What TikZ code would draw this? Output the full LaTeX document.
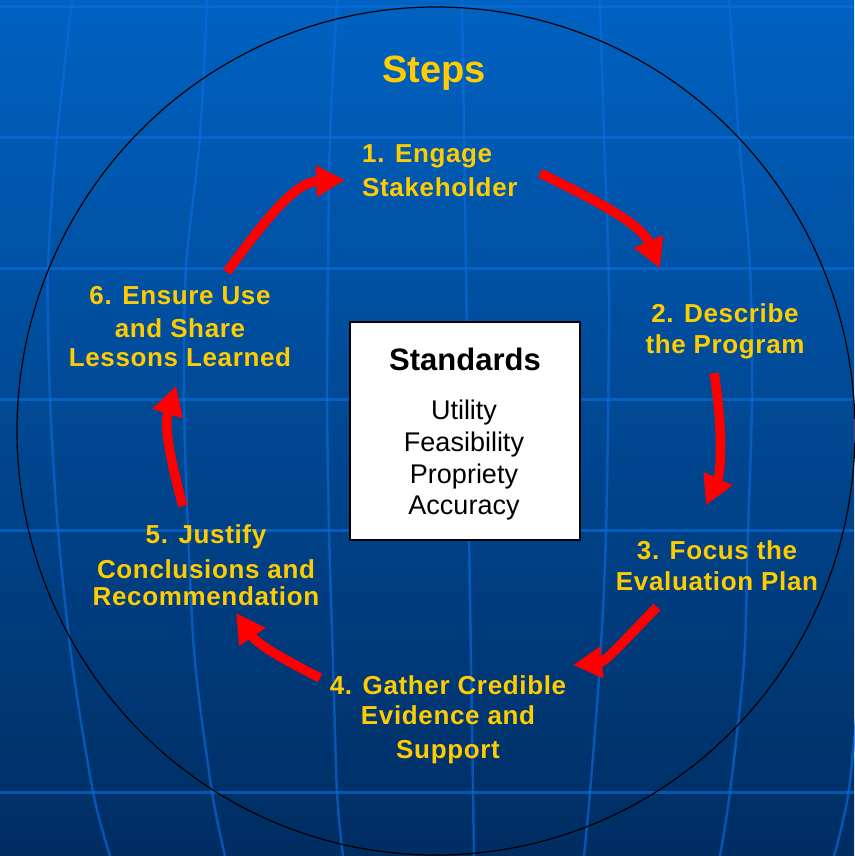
\documentclass[tikz,border=0pt]{standalone}
\usepackage{fontspec}
\setmainfont{Liberation Sans}
\newfontfamily\stepfont{Liberation Sans}[LetterSpace=2.5]
\usetikzlibrary{arrows.meta}
\definecolor{skytop}{RGB}{0,98,194}
\definecolor{skybot}{RGB}{0,45,98}
\definecolor{gridblue}{RGB}{10,110,225}
\definecolor{stepyellow}{RGB}{255,204,0}
\begin{document}
\begin{tikzpicture}[x=1pt,y=-1pt,
  gridline/.style={draw=gridblue, opacity=0.6, line width=3pt},
  meridian/.style={draw=gridblue, opacity=0.6, line width=2.5pt},
  steplabel/.style={text=stepyellow, font=\stepfont\bfseries\fontsize{26}{31}\selectfont,
    inner sep=0pt, align=center, anchor=north},
  cyclearrow/.style={draw=red, line width=9.5pt, -{Triangle[length=29pt,width=30pt]}},
  stdbox/.style={draw=black, line width=1.5pt, fill=white, minimum width=230pt,
    minimum height=218pt, inner sep=0pt},
]
\useasboundingbox (0,0) rectangle (854,856);

% sky gradient
\shade[top color=skytop, bottom color=skybot] (0,0) rectangle (854,856);

% globe grid: parallels
\foreach \yy in {7,137,268,399,530,792}
  \draw[gridline] (0,\yy) -- (854,\yy);

% globe grid: meridians
\draw[meridian] plot[smooth] coordinates {(72,0) (57,137) (48,268) (50,399) (58,530) (72,662) (93,792) (110,856)};
\draw[meridian] plot[smooth] coordinates {(207,0) (200,137) (186,268) (184,399) (188,530) (195,662) (212,792) (225,856)};
\draw[meridian] plot[smooth] coordinates {(337,0) (330,137) (328,268) (327,399) (329,530) (333,662) (337,792) (343,856)};
\draw[meridian] plot[smooth] coordinates {(462,0) (464,137) (466,268) (468,399) (469,530) (471,662) (473,792) (474,856)};
\draw[meridian] plot[smooth] coordinates {(600,0) (604,137) (609,300) (606,530) (600,662) (590,792) (584,856)};
\draw[meridian] plot[smooth] coordinates {(729,0) (739,137) (750,268) (752,399) (748,530) (744,662) (730,792) (720,856)};
\draw[meridian] plot[smooth] coordinates {(862,650) (849,789) (834,856)};

% outer ring
\draw[black, line width=1.2pt] (436,431) ellipse [x radius=419, y radius=424];

% title
\node[text=stepyellow, font=\bfseries\fontsize{38}{44}\selectfont, inner sep=0pt, anchor=base]
  (title) at (434,83) {Steps};

% the six steps
\node[steplabel, anchor=north west, align=left] (s1) at (362,144) {1. Engage\\[3pt]Stakeholder};
\node[steplabel] (s2) at (725,303) {2. Describe\\the Program};
\node[steplabel] (s3) at (717,540) {3. Focus the\\Evaluation Plan};
\node[steplabel] (s4) at (448,675) {4. Gather Credible\\[-1pt]Evidence and\\[3pt]Support};
\node[steplabel] (s5) at (206,524) {5. Justify\\[4pt]Conclusions and\\[-4pt]Recommendation};
\node[steplabel] (s6) at (180,286) {6. Ensure Use\\[2pt]and Share\\[-2pt]Lessons Learned};

% standards box
\node[stdbox] (std) at (465,431) {};
\node[font=\bfseries\fontsize{31}{36}\selectfont, inner sep=0pt, anchor=base] (stdtitle) at (465,370) {Standards};
\node[font=\fontsize{27}{31.7}\selectfont, inner sep=0pt, anchor=north, align=center]
  (stdlist) at (464,400) {Utility\\Feasibility\\Propriety\\Accuracy};

% cycle arrows
\coordinate (a1s) at (227,272); \coordinate (a1e) at (345,180);
\coordinate (a2s) at (540,173); \coordinate (a2e) at (660,268);
\coordinate (a3s) at (714,373); \coordinate (a3e) at (706,505);
\coordinate (a4s) at (657,607); \coordinate (a4e) at (573,665);
\coordinate (a5s) at (320,678); \coordinate (a5e) at (236,613);
\coordinate (a6s) at (183,506); \coordinate (a6e) at (176,386);

\draw[cyclearrow] (a1s) .. controls (265,220) and (295,182) .. (a1e);
\draw[cyclearrow] (a2s) .. controls (590,198) and (640,222) .. (a2e);
\draw[cyclearrow] (a3s) .. controls (722,420) and (722,470) .. (a3e);
\draw[cyclearrow] (a4s) .. controls (625,640) and (605,662) .. (a4e);
\draw[cyclearrow] (a5s) .. controls (285,660) and (258,645) .. (a5e);
\draw[cyclearrow] (a6s) .. controls (170,460) and (164,425) .. (a6e);
\end{tikzpicture}
\end{document}
